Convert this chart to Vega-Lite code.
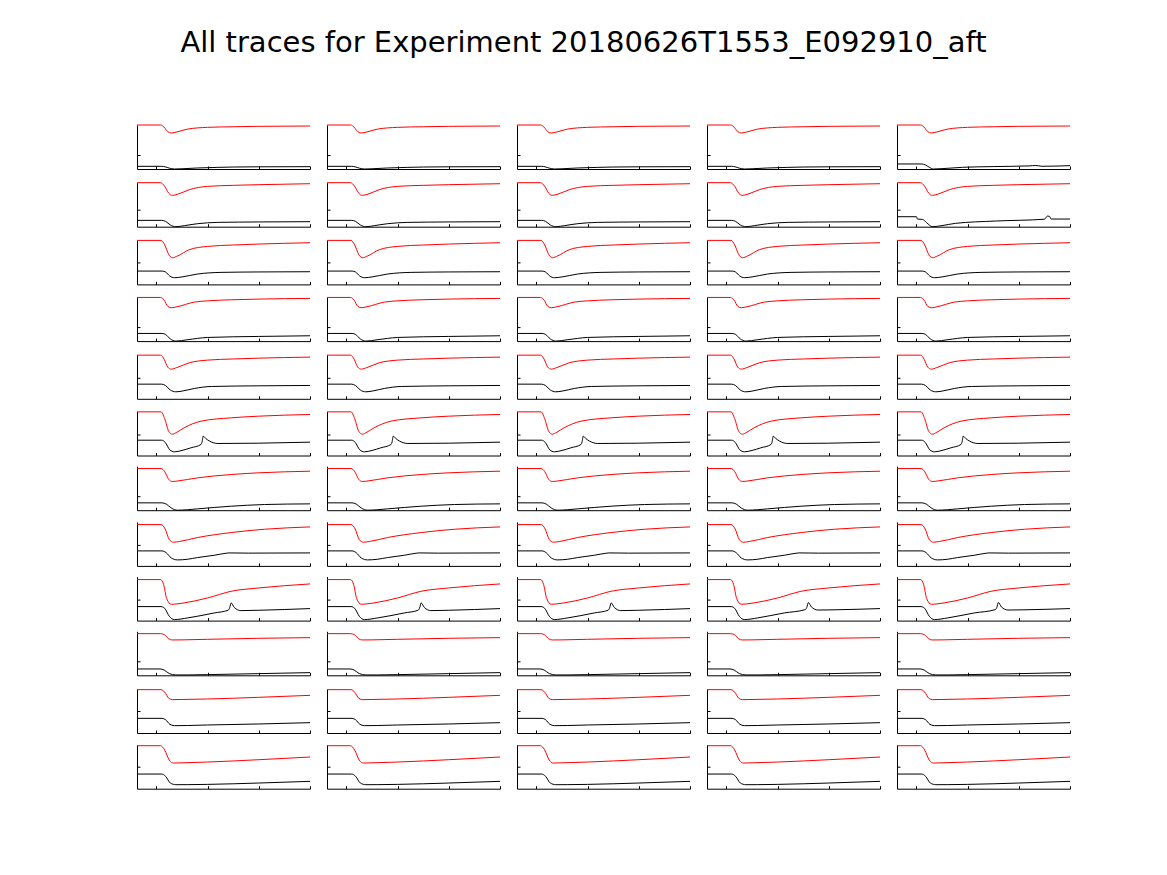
{
  "$schema": "https://vega.github.io/schema/vega-lite/v6.json",
  "background": "white",
  "padding": {"left": 135, "top": 29, "right": 0, "bottom": 0},
  "title": {"text": "All traces for Experiment 20180626T1553_E092910_aft", "font": "DejaVu Sans", "fontSize": 29, "fontWeight": "normal", "color": "#000000", "anchor": "middle", "frame": "group", "baseline": "alphabetic", "offset": 42, "dx": 446.5},
  "datasets": {
    "traces": [
      {"r":1,"c":[1,2,3,4,5],"s":"r","x":[-0.38,0.08,0.15,0.22,0.29,0.4,0.6,1.0,1.5,2.0,3.0],"y":[1,1,0.95,0.85,0.818,0.842,0.905,0.947,0.96,0.97,0.977]},
      {"r":1,"c":[1,2,3,4],"s":"b","x":[-0.38,0.1,0.17,0.25,0.35,0.5,0.8,1.2,1.5,2.0,3.0],"y":[0.061,0.061,0.05,0.02,0,0.005,0.023,0.037,0.045,0.05,0.053]},
      {"r":1,"c":[5],"s":"b","x":[-0.38,0.1,0.17,0.25,0.33,0.5,0.9,1.5,2.2,2.33,2.45,3.0],"y":[0.114,0.114,0.095,0.04,0,0.008,0.038,0.055,0.07,0.08,0.062,0.076]},
      {"r":2,"c":[1,2,3,4,5],"s":"r","x":[-0.38,0.08,0.16,0.24,0.31,0.42,0.64,1.0,1.5,2.0,3.0],"y":[1,1,0.92,0.76,0.712,0.74,0.841,0.917,0.94,0.955,0.977]},
      {"r":2,"c":[1,2,3,4],"s":"b","x":[-0.38,0.1,0.18,0.27,0.38,0.55,0.8,1.2,2.0,3.0],"y":[0.144,0.144,0.12,0.04,0,0.025,0.068,0.098,0.108,0.114]},
      {"r":2,"c":[5],"s":"b","x":[-0.38,0.0,0.02,0.12,0.2,0.31,0.5,0.76,1.55,2.5,2.56,2.6,2.63,3.0],"y":[0.227,0.227,0.174,0.165,0.09,0,0.025,0.076,0.129,0.17,0.242,0.235,0.174,0.174]},
      {"r":3,"c":[1,2,3,4,5],"s":"r","x":[-0.38,0.09,0.16,0.24,0.31,0.42,0.64,1.0,1.5,2.0,3.0],"y":[1,1,0.9,0.68,0.606,0.65,0.788,0.864,0.895,0.917,0.947]},
      {"r":3,"c":[1,2,3,4,5],"s":"b","x":[-0.38,0.11,0.18,0.26,0.35,0.5,0.8,1.26,2.0,3.0],"y":[0.303,0.303,0.28,0.19,0.152,0.17,0.235,0.273,0.283,0.288]},
      {"r":4,"c":[1,2,3,4,5],"s":"r","x":[-0.38,0.08,0.15,0.22,0.29,0.4,0.74,1.0,1.46,2.0,3.0],"y":[0.992,0.992,0.93,0.79,0.758,0.78,0.886,0.915,0.939,0.955,0.97]},
      {"r":4,"c":[1,2,3,4,5],"s":"b","x":[-0.38,0.11,0.18,0.27,0.38,0.6,1.0,2.0,3.0],"y":[0.174,0.174,0.15,0.05,0,0.03,0.083,0.106,0.121]},
      {"r":5,"c":[1,2,3,4,5],"s":"r","x":[-0.38,0.08,0.15,0.22,0.29,0.4,0.64,1.0,1.5,2.0,3.0],"y":[0.992,0.992,0.9,0.72,0.674,0.71,0.818,0.879,0.905,0.924,0.947]},
      {"r":5,"c":[1,2,3,4,5],"s":"b","x":[-0.38,0.1,0.18,0.27,0.38,0.5,0.74,1.07,2.0,3.0],"y":[0.333,0.333,0.3,0.2,0.159,0.175,0.235,0.28,0.295,0.303]},
      {"r":6,"c":[1,2,3,4,5],"s":"r","x":[-0.38,0.09,0.16,0.24,0.31,0.4,0.54,0.87,1.46,2.0,3.0],"y":[0.992,0.992,0.84,0.55,0.485,0.53,0.629,0.78,0.856,0.894,0.932]},
      {"r":6,"c":[1,2,3,4,5],"s":"b","x":[-0.38,0.1,0.17,0.26,0.35,0.5,0.67,0.87,0.89,0.915,0.96,1.04,1.2,2.0,3.0],"y":[0.348,0.348,0.3,0.13,0.083,0.115,0.174,0.25,0.3,0.439,0.39,0.326,0.273,0.28,0.303]},
      {"r":7,"c":[1,2,3,4,5],"s":"r","x":[-0.38,0.09,0.16,0.24,0.31,0.42,0.8,1.46,2.0,3.0],"y":[0.947,0.947,0.88,0.7,0.652,0.665,0.735,0.811,0.85,0.886]},
      {"r":7,"c":[1,2,3,4,5],"s":"b","x":[-0.38,0.11,0.19,0.29,0.41,0.6,0.8,1.46,2.11,3.0],"y":[0.167,0.167,0.14,0.05,0,0.01,0.03,0.091,0.129,0.144]},
      {"r":8,"c":[1,2,3,4,5],"s":"r","x":[-0.38,0.09,0.17,0.25,0.33,0.45,0.8,1.46,2.11,3.0],"y":[0.939,0.939,0.84,0.6,0.538,0.555,0.644,0.758,0.833,0.886]},
      {"r":8,"c":[1,2,3,4,5],"s":"b","x":[-0.38,0.11,0.19,0.29,0.41,0.6,0.8,1.13,1.36,1.42,1.8,3.0],"y":[0.341,0.341,0.3,0.18,0.136,0.15,0.189,0.242,0.288,0.295,0.29,0.295]},
      {"r":9,"c":[1,2,3,4,5],"s":"r","x":[-0.38,0.08,0.14,0.2,0.29,0.4,0.54,1.0,1.46,2.0,3.0],"y":[0.932,0.932,0.82,0.5,0.371,0.38,0.402,0.515,0.667,0.742,0.833]},
      {"r":9,"c":[1,2,3],"s":"b","x":[-0.38,0.09,0.16,0.25,0.35,0.61,1.13,1.4,1.43,1.46,1.52,1.65,2.0,3.0],"y":[0.318,0.318,0.28,0.1,0.023,0.061,0.174,0.235,0.29,0.402,0.3,0.227,0.235,0.273]},
      {"r":9,"c":[4,5],"s":"b","x":[-0.38,0.09,0.16,0.25,0.35,0.61,1.13,1.54,1.57,1.6,1.66,1.79,2.1,3.0],"y":[0.318,0.318,0.28,0.1,0.023,0.061,0.174,0.25,0.3,0.41,0.31,0.24,0.245,0.273]},
      {"r":10,"c":[1,2,3,4,5],"s":"r","x":[-0.38,0.08,0.16,0.24,0.31,0.5,1.0,2.0,3.0],"y":[0.947,0.947,0.92,0.83,0.803,0.805,0.818,0.841,0.856]},
      {"r":10,"c":[1,2,3,4,5],"s":"b","x":[-0.38,0.07,0.15,0.25,0.38,0.6,1.0,2.0,3.0],"y":[0.144,0.144,0.12,0.04,0.008,0.008,0.015,0.038,0.061]},
      {"r":11,"c":[1,2,3,4,5],"s":"r","x":[-0.38,0.09,0.16,0.24,0.31,0.5,1.0,2.0,3.0],"y":[0.985,0.985,0.93,0.79,0.758,0.762,0.773,0.811,0.856]},
      {"r":11,"c":[1,2,3,4,5],"s":"b","x":[-0.38,0.11,0.18,0.26,0.35,0.6,1.0,2.0,3.0],"y":[0.333,0.333,0.3,0.2,0.167,0.17,0.182,0.205,0.235]},
      {"r":12,"c":[1,2,3,4,5],"s":"r","x":[-0.38,0.08,0.16,0.25,0.33,0.5,1.0,2.0,3.0],"y":[0.977,0.977,0.88,0.65,0.583,0.588,0.606,0.659,0.72]},
      {"r":12,"c":[1,2,3,4,5],"s":"b","x":[-0.38,0.1,0.18,0.27,0.38,0.6,1.0,2.0,3.0],"y":[0.333,0.333,0.28,0.13,0.091,0.092,0.098,0.129,0.167]}
    ]
  },
  "data": {"name": "traces"},
  "spacing": 9.7,
  "vconcat": [
    {"transform": [{"filter": "datum.r == 1"}, {"flatten": ["c"]}, {"flatten": ["x", "y"]}], "facet": {"column": {"field": "c", "type": "ordinal", "header": null}}, "spacing": {"column": 13}, "resolve": {"axis": {"x": "independent", "y": "independent"}},
     "spec": {"width": 173, "height": 44, "mark": {"type": "line", "interpolate": "monotone", "strokeWidth": 1},
      "encoding": {"x": {"field": "x", "type": "quantitative", "scale": {"domain": [-0.38, 3], "nice": false, "zero": false}, "axis": {"values": [0, 1, 2, 3]}},
       "y": {"field": "y", "type": "quantitative", "scale": {"domain": [0, 1], "nice": false}, "axis": {"values": [0.318]}},
       "color": {"field": "s", "type": "nominal", "scale": {"domain": ["r", "b"], "range": ["#ff0000", "#000000"]}, "legend": null}}}},
    {"transform": [{"filter": "datum.r == 2"}, {"flatten": ["c"]}, {"flatten": ["x", "y"]}], "facet": {"column": {"field": "c", "type": "ordinal", "header": null}}, "spacing": {"column": 13}, "resolve": {"axis": {"x": "independent", "y": "independent"}},
     "spec": {"width": 173, "height": 44, "mark": {"type": "line", "interpolate": "monotone", "strokeWidth": 1},
      "encoding": {"x": {"field": "x", "type": "quantitative", "scale": {"domain": [-0.38, 3], "nice": false, "zero": false}, "axis": {"values": [0, 1, 2, 3]}},
       "y": {"field": "y", "type": "quantitative", "scale": {"domain": [0, 1], "nice": false}, "axis": {"values": [0.386]}},
       "color": {"field": "s", "type": "nominal", "scale": {"domain": ["r", "b"], "range": ["#ff0000", "#000000"]}, "legend": null}}}},
    {"transform": [{"filter": "datum.r == 3"}, {"flatten": ["c"]}, {"flatten": ["x", "y"]}], "facet": {"column": {"field": "c", "type": "ordinal", "header": null}}, "spacing": {"column": 13}, "resolve": {"axis": {"x": "independent", "y": "independent"}},
     "spec": {"width": 173, "height": 44, "mark": {"type": "line", "interpolate": "monotone", "strokeWidth": 1},
      "encoding": {"x": {"field": "x", "type": "quantitative", "scale": {"domain": [-0.38, 3], "nice": false, "zero": false}, "axis": {"values": [0, 1, 2, 3]}},
       "y": {"field": "y", "type": "quantitative", "scale": {"domain": [0, 1], "nice": false}, "axis": {"values": [0.492]}},
       "color": {"field": "s", "type": "nominal", "scale": {"domain": ["r", "b"], "range": ["#ff0000", "#000000"]}, "legend": null}}}},
    {"transform": [{"filter": "datum.r == 4"}, {"flatten": ["c"]}, {"flatten": ["x", "y"]}], "facet": {"column": {"field": "c", "type": "ordinal", "header": null}}, "spacing": {"column": 13}, "resolve": {"axis": {"x": "independent", "y": "independent"}},
     "spec": {"width": 173, "height": 44, "mark": {"type": "line", "interpolate": "monotone", "strokeWidth": 1},
      "encoding": {"x": {"field": "x", "type": "quantitative", "scale": {"domain": [-0.38, 3], "nice": false, "zero": false}, "axis": {"values": [0, 1, 2, 3]}},
       "y": {"field": "y", "type": "quantitative", "scale": {"domain": [0, 1], "nice": false}, "axis": {"values": [0.318]}},
       "color": {"field": "s", "type": "nominal", "scale": {"domain": ["r", "b"], "range": ["#ff0000", "#000000"]}, "legend": null}}}},
    {"transform": [{"filter": "datum.r == 5"}, {"flatten": ["c"]}, {"flatten": ["x", "y"]}], "facet": {"column": {"field": "c", "type": "ordinal", "header": null}}, "spacing": {"column": 13}, "resolve": {"axis": {"x": "independent", "y": "independent"}},
     "spec": {"width": 173, "height": 44, "mark": {"type": "line", "interpolate": "monotone", "strokeWidth": 1},
      "encoding": {"x": {"field": "x", "type": "quantitative", "scale": {"domain": [-0.38, 3], "nice": false, "zero": false}, "axis": {"values": [0, 1, 2, 3]}},
       "y": {"field": "y", "type": "quantitative", "scale": {"domain": [0, 1], "nice": false}, "axis": {"values": [0.485]}},
       "color": {"field": "s", "type": "nominal", "scale": {"domain": ["r", "b"], "range": ["#ff0000", "#000000"]}, "legend": null}}}},
    {"transform": [{"filter": "datum.r == 6"}, {"flatten": ["c"]}, {"flatten": ["x", "y"]}], "facet": {"column": {"field": "c", "type": "ordinal", "header": null}}, "spacing": {"column": 13}, "resolve": {"axis": {"x": "independent", "y": "independent"}},
     "spec": {"width": 173, "height": 44, "mark": {"type": "line", "interpolate": "monotone", "strokeWidth": 1},
      "encoding": {"x": {"field": "x", "type": "quantitative", "scale": {"domain": [-0.38, 3], "nice": false, "zero": false}, "axis": {"values": [0, 1, 2, 3]}},
       "y": {"field": "y", "type": "quantitative", "scale": {"domain": [0, 1], "nice": false}, "axis": {"values": [0.485]}},
       "color": {"field": "s", "type": "nominal", "scale": {"domain": ["r", "b"], "range": ["#ff0000", "#000000"]}, "legend": null}}}},
    {"transform": [{"filter": "datum.r == 7"}, {"flatten": ["c"]}, {"flatten": ["x", "y"]}], "facet": {"column": {"field": "c", "type": "ordinal", "header": null}}, "spacing": {"column": 13}, "resolve": {"axis": {"x": "independent", "y": "independent"}},
     "spec": {"width": 173, "height": 44, "mark": {"type": "line", "interpolate": "monotone", "strokeWidth": 1},
      "encoding": {"x": {"field": "x", "type": "quantitative", "scale": {"domain": [-0.38, 3], "nice": false, "zero": false}, "axis": {"values": [0, 1, 2, 3]}},
       "y": {"field": "y", "type": "quantitative", "scale": {"domain": [0, 1], "nice": false}, "axis": {"values": [0.326]}},
       "color": {"field": "s", "type": "nominal", "scale": {"domain": ["r", "b"], "range": ["#ff0000", "#000000"]}, "legend": null}}}},
    {"transform": [{"filter": "datum.r == 8"}, {"flatten": ["c"]}, {"flatten": ["x", "y"]}], "facet": {"column": {"field": "c", "type": "ordinal", "header": null}}, "spacing": {"column": 13}, "resolve": {"axis": {"x": "independent", "y": "independent"}},
     "spec": {"width": 173, "height": 44, "mark": {"type": "line", "interpolate": "monotone", "strokeWidth": 1},
      "encoding": {"x": {"field": "x", "type": "quantitative", "scale": {"domain": [-0.38, 3], "nice": false, "zero": false}, "axis": {"values": [0, 1, 2, 3]}},
       "y": {"field": "y", "type": "quantitative", "scale": {"domain": [0, 1], "nice": false}, "axis": {"values": [0.47]}},
       "color": {"field": "s", "type": "nominal", "scale": {"domain": ["r", "b"], "range": ["#ff0000", "#000000"]}, "legend": null}}}},
    {"transform": [{"filter": "datum.r == 9"}, {"flatten": ["c"]}, {"flatten": ["x", "y"]}], "facet": {"column": {"field": "c", "type": "ordinal", "header": null}}, "spacing": {"column": 13}, "resolve": {"axis": {"x": "independent", "y": "independent"}},
     "spec": {"width": 173, "height": 44, "mark": {"type": "line", "interpolate": "monotone", "strokeWidth": 1},
      "encoding": {"x": {"field": "x", "type": "quantitative", "scale": {"domain": [-0.38, 3], "nice": false, "zero": false}, "axis": {"values": [0, 1, 2, 3]}},
       "y": {"field": "y", "type": "quantitative", "scale": {"domain": [0, 1], "nice": false}, "axis": {"values": [0.47]}},
       "color": {"field": "s", "type": "nominal", "scale": {"domain": ["r", "b"], "range": ["#ff0000", "#000000"]}, "legend": null}}}},
    {"transform": [{"filter": "datum.r == 10"}, {"flatten": ["c"]}, {"flatten": ["x", "y"]}], "facet": {"column": {"field": "c", "type": "ordinal", "header": null}}, "spacing": {"column": 13}, "resolve": {"axis": {"x": "independent", "y": "independent"}},
     "spec": {"width": 173, "height": 44, "mark": {"type": "line", "interpolate": "monotone", "strokeWidth": 1},
      "encoding": {"x": {"field": "x", "type": "quantitative", "scale": {"domain": [-0.38, 3], "nice": false, "zero": false}, "axis": {"values": [0, 1, 2, 3]}},
       "y": {"field": "y", "type": "quantitative", "scale": {"domain": [0, 1], "nice": false}, "axis": {"values": [0.318]}},
       "color": {"field": "s", "type": "nominal", "scale": {"domain": ["r", "b"], "range": ["#ff0000", "#000000"]}, "legend": null}}}},
    {"transform": [{"filter": "datum.r == 11"}, {"flatten": ["c"]}, {"flatten": ["x", "y"]}], "facet": {"column": {"field": "c", "type": "ordinal", "header": null}}, "spacing": {"column": 13}, "resolve": {"axis": {"x": "independent", "y": "independent"}},
     "spec": {"width": 173, "height": 44, "mark": {"type": "line", "interpolate": "monotone", "strokeWidth": 1},
      "encoding": {"x": {"field": "x", "type": "quantitative", "scale": {"domain": [-0.38, 3], "nice": false, "zero": false}, "axis": {"values": [0, 1, 2, 3]}},
       "y": {"field": "y", "type": "quantitative", "scale": {"domain": [0, 1], "nice": false}, "axis": {"values": [0.492]}},
       "color": {"field": "s", "type": "nominal", "scale": {"domain": ["r", "b"], "range": ["#ff0000", "#000000"]}, "legend": null}}}},
    {"transform": [{"filter": "datum.r == 12"}, {"flatten": ["c"]}, {"flatten": ["x", "y"]}], "facet": {"column": {"field": "c", "type": "ordinal", "header": null}}, "spacing": {"column": 13}, "resolve": {"axis": {"x": "independent", "y": "independent"}},
     "spec": {"width": 173, "height": 44, "mark": {"type": "line", "interpolate": "monotone", "strokeWidth": 1},
      "encoding": {"x": {"field": "x", "type": "quantitative", "scale": {"domain": [-0.38, 3], "nice": false, "zero": false}, "axis": {"values": [0, 1, 2, 3]}},
       "y": {"field": "y", "type": "quantitative", "scale": {"domain": [0, 1], "nice": false}, "axis": {"values": [0.492]}},
       "color": {"field": "s", "type": "nominal", "scale": {"domain": ["r", "b"], "range": ["#ff0000", "#000000"]}, "legend": null}}}}
  ],
  "config": {
    "font": "DejaVu Sans",
    "view": {"stroke": null},
    "axis": {"labels": false, "title": null, "grid": false, "domainColor": "#000000", "domainWidth": 1, "tickColor": "#000000", "tickWidth": 1, "tickSize": -3}
  }
}
